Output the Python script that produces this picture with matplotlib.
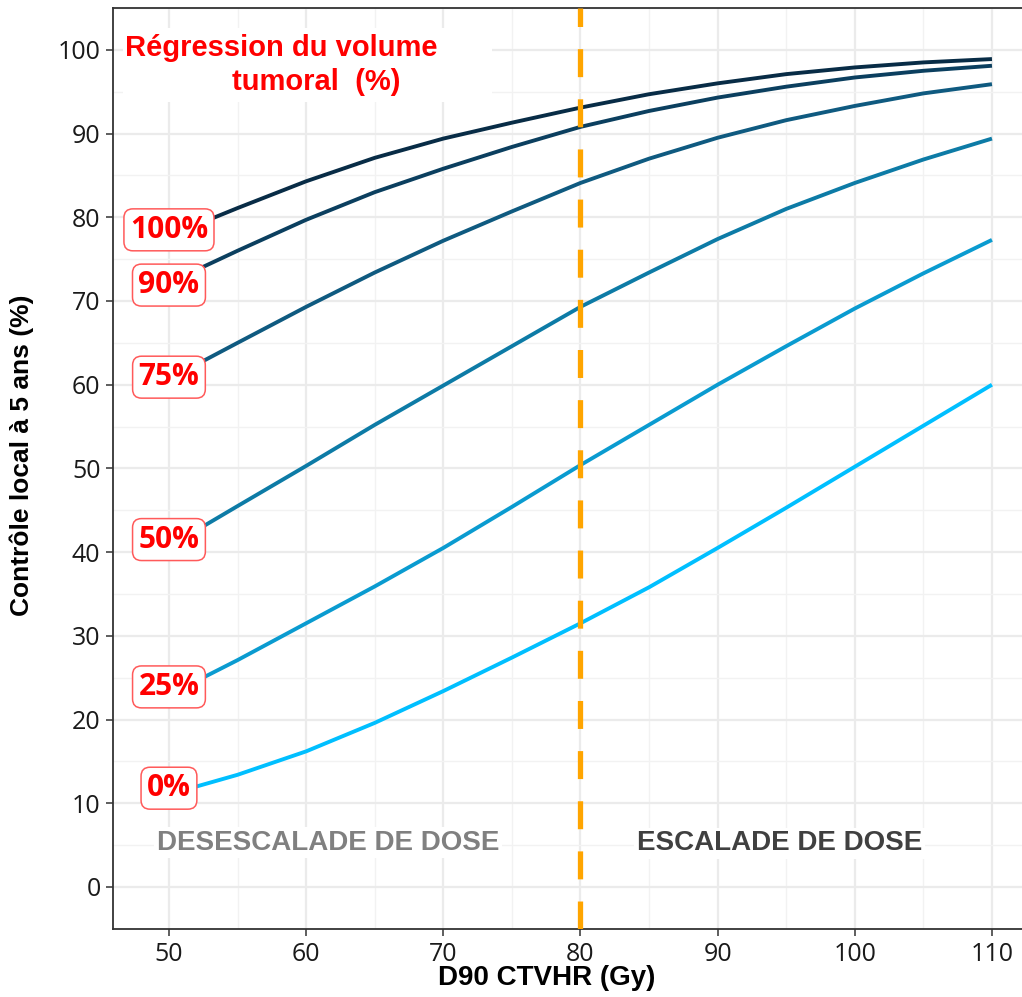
import matplotlib
matplotlib.use("Agg")
import matplotlib.pyplot as plt
from matplotlib.patches import Rectangle
from matplotlib.ticker import MultipleLocator

# dose grid (Gy) and local control (%) for each tumour-regression level
dose = [52, 55, 60, 65, 70, 75, 80, 85, 90, 95, 100, 105, 110]

ctrl_100 = [79.1, 81.1, 84.3, 87.1, 89.4, 91.3, 93.1, 94.7, 96.0, 97.1, 97.9, 98.5, 98.9]
ctrl_90 = [73.7, 76.0, 79.7, 83.0, 85.8, 88.4, 90.8, 92.7, 94.3, 95.6, 96.7, 97.5, 98.1]
ctrl_75 = [62.4, 65.0, 69.3, 73.4, 77.2, 80.7, 84.1, 87.0, 89.5, 91.6, 93.3, 94.8, 95.9]
ctrl_50 = [42.6, 45.5, 50.3, 55.2, 59.9, 64.6, 69.3, 73.4, 77.4, 81.0, 84.1, 86.9, 89.4]
ctrl_25 = [24.6, 27.1, 31.5, 35.9, 40.5, 45.4, 50.4, 55.2, 60.0, 64.6, 69.1, 73.3, 77.3]
ctrl_0 = [12.0, 13.4, 16.2, 19.6, 23.4, 27.4, 31.5, 35.8, 40.5, 45.3, 50.2, 55.1, 60.0]

levels = ["0%", "25%", "50%", "75%", "90%", "100%"]
series = [ctrl_0, ctrl_25, ctrl_50, ctrl_75, ctrl_90, ctrl_100]
label_y = [11.8, 23.9, 41.5, 60.9, 71.9, 78.5]
colors = ["#00bfff", "#0a9bd0", "#0d7ba6", "#0f5a80", "#0b3f5f", "#082c46"]

fig = plt.figure(figsize=(10.22, 9.97), dpi=100)
ax = fig.add_axes([113 / 1022, 1 - 929 / 997, 1 - 113 / 1022, (929 - 8) / 997])

ax.set_xlim(45.92, 112.19)
ax.set_ylim(-5.02, 105.0)
ax.xaxis.set_major_locator(MultipleLocator(10))
ax.xaxis.set_minor_locator(MultipleLocator(5))
ax.yaxis.set_major_locator(MultipleLocator(10))
ax.yaxis.set_minor_locator(MultipleLocator(5))
ax.grid(True, which="major", color="#ebebeb", linewidth=1.6, zorder=0)
ax.grid(True, which="minor", color="#f2f2f2", linewidth=1.0, zorder=0)
ax.set_axisbelow(True)

for side in ["left", "bottom", "top"]:
    ax.spines[side].set_color("#333333")
    ax.spines[side].set_linewidth(1.3)
ax.spines["right"].set_visible(False)
ax.tick_params(which="major", length=5, width=1.1, color="#333333",
               labelsize=18, labelcolor="#1a1a1a", pad=4)
ax.tick_params(which="minor", length=0)
for lab in ax.get_xticklabels() + ax.get_yticklabels():
    lab.set_family("Open Sans")

for name, vals, ly, col in zip(levels, series, label_y, colors):
    ax.plot(dose, vals, color=col, linewidth=2.8, solid_capstyle="butt",
            solid_joinstyle="round", zorder=3)
    ax.text(50, ly, name, ha="center", va="center", fontsize=21.5,
            fontweight="bold", color="#ff0000", family="Open Sans", zorder=5,
            bbox=dict(boxstyle="round,pad=0.2,rounding_size=0.3", fc="white",
                      ec="#ff5a5a", lw=1.1))

ax.axvline(80, color="#ffa500", linewidth=3.8, dashes=(5.3, 4.2), zorder=4)

# white panel behind the legend title
ax.add_patch(Rectangle((0.011, 0.898), 0.406, 0.080, transform=ax.transAxes,
                       fc="white", ec="none", zorder=2))
ax.text(0.013, 0.9566, "Régression du volume", transform=ax.transAxes,
        ha="left", va="center", fontsize=21, fontweight="bold",
        color="#ff0000", family="Liberation Sans", zorder=6)
ax.text(0.131, 0.9197, "tumoral  (%)", transform=ax.transAxes,
        ha="left", va="center", fontsize=21, fontweight="bold",
        color="#ff0000", family="Liberation Sans", zorder=6)

ax.text(61.6, 5.3, "DESESCALADE DE DOSE", ha="center", va="center",
        fontsize=20, fontweight="bold", color="#808080",
        family="Liberation Sans", zorder=6,
        bbox=dict(boxstyle="square,pad=0.1", fc="white", ec="none"))
ax.text(94.5, 5.2, "ESCALADE DE DOSE", ha="center", va="center",
        fontsize=20, fontweight="bold", color="#404040",
        family="Liberation Sans", zorder=6,
        bbox=dict(boxstyle="square,pad=0.1", fc="white", ec="none"))

ax.set_xlabel("D90 CTVHR (Gy)", fontsize=20, fontweight="bold",
              family="Liberation Sans", va="center")
ax.xaxis.set_label_coords(0.4774, -0.0532)
ax.set_ylabel("Contrôle local à 5 ans (%)", fontsize=19, fontweight="bold",
              family="Liberation Sans", va="center")
ax.yaxis.set_label_coords(-0.100, 0.5147)

fig.savefig("out.png", dpi=100)
